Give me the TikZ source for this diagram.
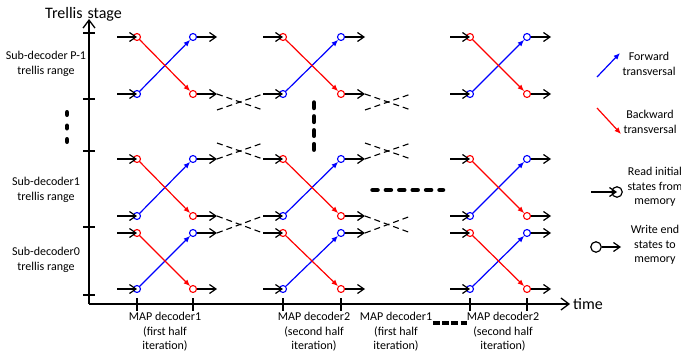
\documentclass[tikz,border=0pt]{standalone}
\usepackage{fontspec}
\setmainfont{Carlito}
\usetikzlibrary{arrows.meta}

% one MAP-decoder trellis window: prefix, left x, right x, top y, bottom y
\newcommand\trellisblock[5]{%
  \node[rdot] (#1rl) at (#2,#4) {};
  \node[bdot] (#1bl) at (#2,#5) {};
  \node[bdot] (#1br) at (#3,#4) {};
  \node[rdot] (#1rr) at (#3,#5) {};
  \coordinate (#1inT) at (#2-20,#4);
  \coordinate (#1inB) at (#2-20,#5);
  \coordinate (#1outT) at (#3+24,#4);
  \coordinate (#1outB) at (#3+24,#5);
  \draw[fwd] (#1bl) -- (#1br);
  \draw[bwd] (#1rl) -- (#1rr);
  \draw[blkarr] (#1inT) -- (#1rl.center);
  \draw[blkarr] (#1inB) -- (#1bl.center);
  \draw[blkarr] (#1br) -- (#1outT);
  \draw[blkarr] (#1rr) -- (#1outB);
}

\begin{document}
\begin{tikzpicture}[x=1pt,y=-1pt,
  blkarr/.style={line width=1.2pt,-{Straight Barb[length=6.5pt,width=9pt]}},
  axisarr/.style={line width=1.3pt,-{Straight Barb[length=8pt,width=12pt]}},
  fwd/.style={blue,line width=1.2pt,-{Latex[length=6.5pt,width=5.5pt]}},
  bwd/.style={red,line width=1.2pt,-{Latex[length=6.5pt,width=5.5pt]}},
  rdot/.style={circle,draw=red,line width=1.1pt,minimum size=7pt,inner sep=0pt},
  bdot/.style={circle,draw=blue,line width=1.1pt,minimum size=7pt,inner sep=0pt},
  memdot/.style={circle,draw=black,line width=1.2pt,minimum size=10.5pt,inner sep=0pt},
  xdash/.style={line width=1.1pt,dash pattern=on 6pt off 4pt},
  tick/.style={line width=1.2pt},
  lbl/.style={font=\fontsize{12}{14.5}\selectfont,align=center,inner sep=0pt},
  biglbl/.style={font=\fontsize{16}{19}\selectfont,inner sep=0pt},
]
\useasboundingbox (0,0) rectangle (681,356);

% axes
\coordinate (O) at (89,304);
\coordinate (ytop) at (89,19);
\coordinate (xend) at (570,304);
\draw[axisarr] (O) -- (ytop);
\draw[axisarr] (O) -- (xend);
\foreach \ty in {33,99,151,227,295} \draw[tick] (83,\ty) -- (95,\ty);
\foreach \tx in {137,193,283,341,470,527} \draw[tick] (\tx,298) -- (\tx,311);

\node[biglbl,anchor=base west] (ylab) at (45,18.5) {Trellis\hspace{5pt}stage};
\node[biglbl,anchor=base west] (xlab) at (573,309.5) {time};

% trellis ranges
\node[lbl] (rP) at (46,64) {Sub-decoder P-1\\trellis range};
\node[lbl] (r1) at (46,190) {Sub-decoder1\\trellis range};
\node[lbl] (r0) at (46,260) {Sub-decoder0\\trellis range};

% decoder windows
\trellisblock{a1}{137}{193}{37}{94}
\trellisblock{a2}{137}{193}{159}{216}
\trellisblock{a3}{137}{193}{233}{289}
\trellisblock{b1}{283}{341}{37}{94}
\trellisblock{b2}{283}{341}{159}{216}
\trellisblock{b3}{283}{341}{233}{289}
\trellisblock{c1}{470}{527}{37}{94}
\trellisblock{c2}{470}{527}{159}{216}
\trellisblock{c3}{470}{527}{233}{289}

% state hand-over between sub-decoders
\coordinate (p1) at (263,110);
\coordinate (p2) at (217,110);
\coordinate (p3) at (263,143);
\coordinate (p4) at (217,143);
\draw[xdash] (a1outB) -- (p1);
\draw[xdash] (p2) -- (b1inB);
\draw[xdash] (a2outT) -- (p3);
\draw[xdash] (p4) -- (b2inT);
\draw[xdash] (a2outB) -- (b3inT);
\draw[xdash] (a3outT) -- (b2inB);

\coordinate (q1) at (411,110);
\coordinate (q2) at (365,110);
\coordinate (q3) at (411,94);
\coordinate (q4) at (411,143);
\coordinate (q5) at (365,143);
\coordinate (q6) at (411,159);
\coordinate (q7) at (411,233);
\coordinate (q8) at (411,216);
\draw[xdash] (b1outB) -- (q1);
\draw[xdash] (q2) -- (q3);
\draw[xdash] (b2outT) -- (q4);
\draw[xdash] (q5) -- (q6);
\draw[xdash] (b2outB) -- (q7);
\draw[xdash] (b3outT) -- (q8);

% ellipsis marks
\draw[line width=4.5pt,line cap=round,dash pattern=on 2.5pt off 11pt] (67,112.25) -- (67,142);
\draw[line width=4.5pt,line cap=round,dash pattern=on 5.5pt off 8.4pt] (314,102.5) -- (314,150);
\draw[line width=4.5pt,line cap=round,dash pattern=on 5pt off 8.4pt] (372.5,190) -- (443,190);
\draw[line width=3.5pt,dash pattern=on 6.5pt off 2.7pt] (433,323) -- (467,323);

% time-axis labels
\node[lbl] (t1) at (165,332) {MAP decoder1\\(first half\\iteration)};
\node[lbl] (t2) at (314,332) {MAP decoder2\\(second half\\iteration)};
\node[lbl] (t3) at (396,332) {MAP decoder1\\(first half\\iteration)};
\node[lbl] (t4) at (503,332) {MAP decoder2\\(second half\\iteration)};

% legend
\coordinate (lf0) at (597,77);
\coordinate (lf1) at (620,53);
\draw[fwd] (lf0) -- (lf1);
\node[lbl] (lfT) at (649,64) {Forward\\transversal};
\coordinate (lb0) at (597,108);
\coordinate (lb1) at (621,134);
\draw[bwd] (lb0) -- (lb1);
\node[lbl] (lbT) at (650,122) {Backward\\transversal};
\node[memdot] (rdc) at (617,192) {};
\coordinate (rds) at (591,192);
\draw[blkarr] (rds) -- (rdc.center);
\node[lbl] (rdT) at (655,187) {Read initial\\states from\\memory};
\node[memdot] (wrc) at (596,247) {};
\coordinate (wre) at (621,247);
\draw[blkarr] (wrc) -- (wre);
\node[lbl] (wrT) at (655,245) {Write end\\states to\\memory};
\end{tikzpicture}
\end{document}
